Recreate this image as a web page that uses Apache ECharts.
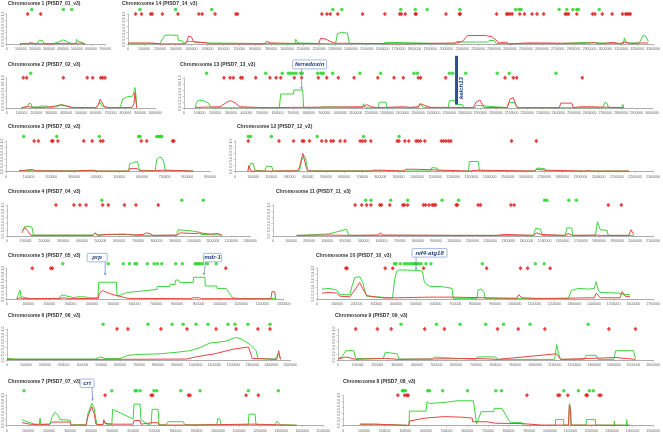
<!DOCTYPE html>
<html><head><meta charset="utf-8">
<script src="https://cdn.jsdelivr.net/npm/echarts@6/dist/echarts.min.js"></script>
<style>html,body{margin:0;padding:0;background:#fff}#c{width:663px;height:434px}</style>
</head><body><div id="c"></div>
<script>
// ---- DATA (positions in kb, values 0..1) ----
const chr1Green=[[95,0.02],[107,0.07],[130,0.03],[213,0.03],[232,0.14],[256,0.13],[265,0.03],[332,0.03],[367,0.08],[403,0.15],[438,0.08],[462,0.03],[493,0.03],[498,0.17],[512,0.1],[545,0.05],[559,0.02]];
const chr1Red=[[95,0.02],[107,0.06],[125,0.03],[150,0.02],[165,0.06],[180,0.05],[200,0.03],[260,0.02],[330,0.02],[400,0.04],[470,0.02],[500,0.04],[520,0.05],[545,0.03],[559,0.01]];
const chr1GreenMarks=[178,403,463];
const chr1RedMarks=[149,242];

const chr14Green=[[0,0.02],[200,0.03],[231,0.3],[262,0.31],[312,0.3],[318,0.12],[343,0.12],[349,0.02],[368,0.1],[405,0.1],[412,0.05],[493,0.05],[499,0.02],[1048,0.02],[1054,0.17],[1067,0.05],[1073,0.02],[1304,0.02],[1316,0.35],[1341,0.4],[1379,0.37],[1391,0.03],[1603,0.03],[1616,0.07],[1653,0.07],[1659,0.02],[2052,0.02],[2065,0.1],[2102,0.08],[2258,0.08],[2271,0.13],[2302,0.13],[2314,0.03],[2713,0.03],[2720,0.07],[2882,0.07],[2888,0.02],[3113,0.02],[3119,0.22],[3131,0.05],[3213,0.05],[3238,0.31],[3256,0.25],[3269,0.1]];
const chr14Red=[[0,0.05],[150,0.05],[200,0.02],[350,0.02],[368,0.05],[380,0.27],[399,0.25],[412,0.08],[493,0.06],[511,0.02],[649,0.02],[661,0.05],[680,0.02],[855,0.02],[873,0.1],[898,0.05],[1085,0.03],[1198,0.03],[1210,0.2],[1241,0.18],[1279,0.08],[1304,0.04],[1603,0.03],[1697,0.02],[2065,0.05],[2102,0.1],[2133,0.29],[2246,0.3],[2289,0.25],[2333,0.05],[2370,0.08],[2395,0.02],[2508,0.05],[2632,0.05],[2726,0.04],[2882,0.04],[2932,0.06],[2963,0.02],[3050,0.07],[3088,0.03],[3119,0.08],[3163,0.03],[3225,0.05],[3269,0.05]];
const chr14GreenMarks=[75,299,526,1287,1343,1714,1805,1880,2085,2435,2456,2470,2709,2757,2795,2820,2830,2961];
const chr14RedMarks=[48,85,142,152,216,314,445,466,547,678,688,1218,1250,1271,1318,1474,1614,1707,1717,1742,1805,1811,1998,2082,2088,2316,2379,2387,2400,2414,2462,2491,2539,2570,2612,2747,2757,2768,2820,2919,2934,2980,3042,3107,3127,3136,3148,3156];

const chr2Green=[[101,0.02],[139,0.05],[150,0.16],[164,0.15],[171,0.04],[213,0.04],[236,0.08],[270,0.07],[292,0.03],[337,0.05],[371,0.13],[405,0.06],[438,0.02],[607,0.02],[618,0.08],[629,0.2],[641,0.08],[674,0.02],[764,0.02],[782,0.3],[809,0.37],[850,0.4],[861,0.38],[865,0.68],[872,0.4],[877,0.02]];
const chr2Red=[[101,0.02],[139,0.06],[171,0.03],[260,0.03],[315,0.06],[360,0.11],[405,0.08],[440,0.03],[600,0.02],[618,0.1],[629,0.3],[641,0.2],[660,0.05],[700,0.02],[845,0.03],[858,0.15],[865,0.52],[872,0.2],[877,0.02]];
const chr2GreenMarks=[162];
const chr2RedMarks=[112,135,382,543,580,634,647,663];

const chr13Green=[[71,0.02],[81,0.2],[96,0.27],[124,0.25],[156,0.18],[173,0.02],[611,0.02],[620,0.47],[701,0.47],[705,0.6],[761,0.6],[767,0.02],[861,0.02],[867,0.05],[889,0.05],[893,0.02],[1146,0.02],[1150,0.15],[1160,0.13],[1165,0.02],[1246,0.02],[1252,0.2],[1295,0.2],[1299,0.02],[1502,0.02],[1513,0.15],[1534,0.03],[1694,0.02],[1701,0.25],[1737,0.25],[1742,0.12],[1786,0.12],[1791,0.02],[1865,0.02],[1876,0.1],[1919,0.08],[1925,0.02],[2072,0.02],[2085,0.2],[2122,0.18],[2133,0.02],[2282,0.02],[2293,0.08],[2303,0.02],[2684,0.02],[2699,0.2],[2714,0.15],[2720,0.02],[2806,0.02],[2812,0.13],[2820,0.02]];
const chr13Red=[[71,0.03],[231,0.05],[274,0.2],[299,0.25],[327,0.18],[359,0.05],[519,0.02],[530,0.05],[551,0.02],[690,0.03],[744,0.03],[1150,0.05],[1171,0.12],[1203,0.05],[1235,0.02],[1406,0.05],[1449,0.03],[1502,0.05],[1513,0.15],[1556,0.07],[1577,0.03],[1705,0.03],[1854,0.02],[1872,0.2],[1897,0.27],[1915,0.1],[1925,0.02],[2072,0.03],[2090,0.3],[2111,0.35],[2128,0.1],[2143,0.02],[2406,0.02],[2415,0.17],[2485,0.17],[2495,0.02],[2538,0.05],[2613,0.05],[2624,0.02],[2820,0.02]];
const chr13GreenMarks=[145,524,630,669,684,701,718,748,758,857,878,893,953,1128,1261,1474,1496,1701,1722,1806,2008,2085,2384];
const chr13RedMarks=[256,295,316,363,374,460,551,590,620,707,754,861,915,989,1090,1242,1346,1406,1502,1517,1677,2058,2111,2133,2553];

const chr3Green=[[58,0.05],[80,0.03],[117,0.05],[132,0.02],[285,0.03],[322,0.03],[380,0.04],[402,0.02],[541,0.02],[545,0.25],[563,0.3],[580,0.33],[589,0.05],[658,0.03],[665,0.4],[677,0.47],[687,0.45],[697,0.3],[703,0.03],[797,0.03],[811,0.02],[826,0.02]];
const chr3Red=[[58,0.03],[117,0.07],[132,0.03],[300,0.02],[380,0.05],[402,0.02],[541,0.02],[545,0.1],[580,0.1],[589,0.03],[658,0.03],[665,0.05],[697,0.05],[703,0.02],[797,0.03],[826,0.02]];
const chr3GreenMarks=[78,224,412,585,592,665,672,680,687];
const chr3RedMarks=[124,143,202,207,229,343,380,417,428,597,621,735,741];

const chr12Green=[[71,0.02],[86,0.27],[100,0.27],[109,0.05],[164,0.02],[173,0.18],[202,0.17],[209,0.02],[355,0.03],[366,0.35],[379,0.52],[388,0.45],[400,0.03],[1075,0.02],[1082,0.13],[1111,0.12],[1115,0.02],[1284,0.02],[1289,0.33],[1339,0.33],[1344,0.02],[1648,0.02],[1661,0.12],[1703,0.1],[1710,0.02],[2167,0.02]];
const chr12Red=[[71,0.02],[76,0.2],[87,0.02],[200,0.02],[344,0.03],[355,0.15],[373,0.6],[383,0.55],[393,0.1],[404,0.02],[747,0.02],[760,0.05],[800,0.05],[810,0.02],[929,0.02],[940,0.08],[990,0.08],[1000,0.02],[1284,0.02],[1290,0.05],[1339,0.05],[1344,0.02],[1648,0.02],[1660,0.08],[1703,0.05],[1710,0.02],[1930,0.02],[1945,0.04],[1960,0.02],[2167,0.02]];
const chr12GreenMarks=[73,86,200,452,707,902];
const chr12RedMarks=[73,242,322,370,379,410,477,501,528,541,578,605,688,701,716,747,892,902,934,956,996,1007,1020,1044,1135,1147,1160,1175,1187,1521,1657];

const chr4Green=[[79,0.2],[96,0.3],[112,0.32],[134,0.28],[141,0.03],[460,0.03],[471,0.1],[482,0.03],[535,0.05],[674,0.05],[685,0.02],[908,0.02],[915,0.2],[979,0.17],[1033,0.12],[1038,0.05],[1150,0.03]];
const chr4Red=[[79,0.1],[96,0.28],[112,0.15],[128,0.02],[460,0.02],[471,0.1],[487,0.02],[535,0.05],[631,0.06],[674,0.03],[728,0.05],[744,0.1],[765,0.08],[781,0.02],[910,0.03],[926,0.1],[1006,0.08],[1033,0.1],[1086,0.06],[1129,0.08],[1150,0.02]];
const chr4GreenMarks=[507,935,1050];
const chr4RedMarks=[262,358,390,423,512,542,628,690,809];

const chr11Green=[[130,0.02],[141,0.06],[157,0.02],[310,0.07],[364,0.15],[407,0.22],[418,0.02],[581,0.02],[592,0.05],[608,0.02],[679,0.02],[690,0.07],[706,0.02],[1439,0.02],[1450,0.25],[1477,0.22],[1488,0.02],[1613,0.02],[1624,0.27],[1651,0.25],[1656,0.02],[1781,0.02],[1792,0.46],[1808,0.2],[1846,0.18],[1851,0.02],[1993,0.02]];
const chr11Red=[[130,0.02],[310,0.03],[418,0.02],[581,0.03],[592,0.1],[608,0.03],[988,0.02],[994,0.05],[1005,0.02],[1233,0.02],[1238,0.05],[1287,0.05],[1292,0.02],[1439,0.02],[1455,0.1],[1482,0.05],[1613,0.02],[1629,0.08],[1656,0.02],[1786,0.03],[1797,0.08],[1814,0.02],[1966,0.02],[1977,0.2],[1993,0.05]];
const chr11GreenMarks=[512,541,650,744,934,1025,1500,1513,1634,1676];
const chr11RedMarks=[454,490,517,541,590,599,645,717,726,744,831,843,862,880,889,898,1012,1019,1133,1146,1314,1332,1852,1924];

const chr5Green=[[47,0.02],[55,0.15],[62,0.3],[68,0.08],[75,0.05],[100,0.04],[110,0.02],[245,0.02],[255,0.12],[270,0.14],[283,0.1],[290,0.05],[320,0.05],[330,0.08],[370,0.08],[380,0.05],[428,0.04],[432,0.55],[515,0.55],[518,0.1],[540,0.15],[565,0.22],[566,0.27],[640,0.27],[641,0.32],[705,0.32],[706,0.41],[765,0.41],[767,0.48],[790,0.48],[792,0.62],[805,0.62],[814,0.54],[875,0.54],[877,0.71],[930,0.71],[932,0.43],[985,0.43],[988,0.35],[1030,0.35],[1060,0.05],[1100,0.02],[1240,0.02],[1250,0.03],[1265,0.02]];
const chr5Red=[[47,0.02],[62,0.05],[75,0.02],[250,0.03],[270,0.05],[290,0.02],[430,0.03],[435,0.2],[450,0.28],[470,0.22],[500,0.15],[540,0.08],[570,0.03],[860,0.02],[875,0.05],[905,0.05],[915,0.02],[1240,0.02],[1245,0.25],[1258,0.24],[1262,0.02]];
const chr5GreenMarks=[263,477,547,576,602,610,660,692,707,728,793,824,884,892,900,908,920,942,983];
const chr5RedMarks=[120,207,214,1028];

const chr10Green=[[25,0.33],[65,0.35],[99,0.3],[116,0.15],[166,0.15],[176,0.4],[191,0.7],[216,0.73],[231,0.55],[241,0.3],[251,0.1],[367,0.05],[382,0.05],[392,0.6],[402,0.9],[417,0.95],[518,0.93],[533,0.9],[543,0.55],[568,0.42],[643,0.4],[683,0.35],[688,0.03],[809,0.03],[814,0.3],[829,0.33],[844,0.25],[849,0.03],[1271,0.03],[1286,0.28],[1321,0.35],[1372,0.33],[1402,0.35],[1412,0.57],[1422,0.3],[1432,0.22],[1523,0.2],[1548,0.16],[1583,0.15]];
const chr10Red=[[25,0.2],[65,0.22],[99,0.2],[116,0.1],[166,0.08],[191,0.3],[216,0.54],[231,0.35],[251,0.12],[291,0.08],[342,0.04],[568,0.07],[683,0.07],[693,0.02],[1010,0.03],[1020,0.15],[1035,0.05],[1121,0.02],[1402,0.05],[1412,0.2],[1432,0.05],[1533,0.05],[1543,0.25],[1558,0.1],[1583,0.08]];
const chr10GreenMarks=[392,400,421,442,454,467,479,492,497,504,513,526,551,576,836,1104,1149];
const chr10RedMarks=[146,152,345,383,539,858,1029,1065,1179];

const chr6Green=[[0,0.05],[50,0.03],[470,0.03],[493,0.1],[520,0.05],[599,0.05],[640,0.15],[700,0.18],[811,0.2],[900,0.25],[970,0.3],[1023,0.4],[1076,0.55],[1155,0.6],[1210,0.72],[1235,0.7],[1288,0.5],[1320,0.3],[1330,0.05],[1420,0.03],[1440,0.2],[1447,0.05]];
const chr6Red=[[0,0.02],[500,0.02],[950,0.03],[1000,0.1],[1100,0.2],[1200,0.35],[1280,0.42],[1300,0.05],[1430,0.02],[1440,0.3],[1450,0.02]];
const chr6GreenMarks=[509,747,875,933,1002,1065,1171,1208,1277,1394];
const chr6RedMarks=[583,641,816,954,1108,1214,1330,1394];

const chr9Green=[[0,0.05],[20,0.1],[40,0.3],[80,0.3],[90,0.05],[230,0.05],[240,0.25],[300,0.2],[310,0.03],[480,0.03],[490,0.1],[520,0.08],[530,0.02],[700,0.02],[710,0.1],[800,0.1],[810,0.02],[1100,0.02],[1110,0.5],[1120,0.2],[1130,0.02],[1250,0.02],[1260,0.15],[1310,0.15],[1320,0.02],[1400,0.02],[1410,0.3],[1500,0.3],[1510,0.05]];
const chr9Red=[[0,0.03],[40,0.1],[90,0.02],[240,0.05],[310,0.02],[700,0.05],[810,0.02],[1110,0.2],[1130,0.02],[1410,0.08],[1510,0.02]];
const chr9GreenMarks=[320,500,620,750,840,975,1270];
const chr9RedMarks=[90,200,270,440,540,810,915,1050,1375,1510];

const chr7Green=[[73,0.2],[87,0.15],[110,0.1],[134,0.05],[155,0.05],[158,0.25],[161,0.05],[205,0.05],[215,0.3],[229,0.44],[243,0.35],[253,0.2],[300,0.18],[305,0.03],[376,0.03],[385,0.4],[403,0.74],[414,0.6],[423,0.2],[428,0.03],[456,0.03],[466,0.12],[475,0.03],[498,0.03],[502,0.54],[599,0.22],[603,0.71],[632,0.71],[636,0.2],[665,0.05],[684,0.05],[689,0.54],[717,0.54],[722,0.03],[755,0.03],[765,0.13],[835,0.13],[845,0.03],[995,0.03],[1001,0.25],[1011,0.2],[1016,0.03],[1144,0.03],[1148,0.38],[1177,0.38],[1181,0.03],[1272,0.03],[1281,0.15],[1295,0.03],[1374,0.02]];
const chr7Red=[[73,0.1],[87,0.08],[110,0.05],[150,0.03],[205,0.05],[215,0.12],[300,0.12],[305,0.02],[376,0.02],[385,0.3],[403,0.63],[414,0.4],[423,0.05],[428,0.02],[456,0.03],[460,0.2],[466,0.08],[475,0.02],[502,0.05],[599,0.05],[603,0.17],[632,0.17],[636,0.05],[689,0.1],[717,0.1],[722,0.02],[840,0.02],[850,0.03],[870,0.02],[1148,0.05],[1177,0.05],[1181,0.02],[1281,0.03],[1374,0.01]];
const chr7GreenMarks=[82,498,608,616,632,698,711,825,916,1145,1287];
const chr7RedMarks=[466,684,692,861,869,1134,1192];

const chr8Green=[[80,0.05],[152,0.05],[160,0.01],[318,0.01],[320,0.48],[400,0.48],[405,0.79],[417,0.73],[498,0.77],[551,0.82],[630,0.82],[645,0.05],[667,0.46],[729,0.46],[731,0.57],[768,0.57],[800,0.19],[810,0.1],[865,0.1],[870,0.01],[1026,0.01],[1028,0.2],[1066,0.2],[1068,0.02],[1090,0.02],[1095,0.73],[1100,0.55],[1102,0.02],[1175,0.02],[1177,0.2],[1220,0.2],[1222,0.02],[1310,0.02],[1312,0.15],[1314,0.02],[1370,0.02],[1372,0.2],[1374,0.02],[1386,0.02]];
const chr8Red=[[80,0.05],[152,0.05],[160,0.01],[318,0.01],[320,0.15],[395,0.25],[401,0.3],[489,0.3],[491,0.28],[576,0.28],[580,0.25],[624,0.25],[626,0.13],[696,0.13],[700,0.1],[738,0.08],[865,0.07],[870,0.03],[960,0.02],[1090,0.02],[1094,0.68],[1100,0.5],[1103,0.02],[1386,0.01]];
const chr8GreenMarks=[286,292,301,409,417,481,601,738,766,1067,1138,1191,1210];
const chr8RedMarks=[264,297,308,314,889,1039,1047,1087,1175,1181,1238,1247];

// gene annotations: [panel, gene, kb, value]
const genes=[[3,'ferredoxin',754,0.62],[8,'prp',462,0.78],[8,'mdr-1',926,0.78],[9,'nif4-atg18',501,0.95],[12,'crt',407,0.82]];
const kelch=[3,'kelch13',1747,0.13,1.72];

// ---- LAYOUT ----
const panels=[
 {t:'Chromosome 1 (PfSD7_01_v3)',g:chr1Green,r:chr1Red,gm:chr1GreenMarks,rm:chr1RedMarks,max:700,L:6.7,T:14,W:98.3,H:30.5,tx:8,ty:1},
 {t:'Chromosome 14 (PfSD7_14_v3)',g:chr14Green,r:chr14Red,gm:chr14GreenMarks,rm:chr14RedMarks,max:3300,L:128,T:14,W:529,H:30.5,tx:122,ty:1},
 {t:'Chromosome 2 (PfSD7_02_v3)',g:chr2Green,r:chr2Red,gm:chr2GreenMarks,rm:chr2RedMarks,max:1000,L:6.7,T:77.8,W:148.3,H:30.5,tx:8,ty:62},
 {t:'Chromosome 13 (PfSD7_13_v3)',g:chr13Green,r:chr13Red,gm:chr13GreenMarks,rm:chr13RedMarks,max:3000,L:184,T:77.8,W:468,H:30.5,tx:180,ty:62},
 {t:'Chromosome 3 (PfSD7_03_v3)',g:chr3Green,r:chr3Red,gm:chr3GreenMarks,rm:chr3RedMarks,max:900,L:5,T:141,W:205,H:30.7,tx:8,ty:124},
 {t:'Chromosome 12 (PfSD7_12_v3)',g:chr12Green,r:chr12Red,gm:chr12GreenMarks,rm:chr12RedMarks,max:2300,L:235,T:141,W:421,H:30.7,tx:237,ty:124},
 {t:'Chromosome 4 (PfSD7_04_v3)',g:chr4Green,r:chr4Red,gm:chr4GreenMarks,rm:chr4RedMarks,max:1300,L:7,T:205,W:243,H:31,tx:8,ty:189},
 {t:'Chromosome 11 (PfSD7_11_v3)',g:chr11Green,r:chr11Red,gm:chr11GreenMarks,rm:chr11RedMarks,max:2100,L:273,T:205,W:386,H:31,tx:276,ty:189},
 {t:'Chromosome 5 (PfSD7_05_v3)',g:chr5Green,r:chr5Red,gm:chr5GreenMarks,rm:chr5RedMarks,max:1300,L:6.7,T:268.3,W:277,H:31,tx:8,ty:253},
 {t:'Chromosome 10 (PfSD7_10_v3)',g:chr10Green,r:chr10Red,gm:chr10GreenMarks,rm:chr10RedMarks,max:1700,L:317,T:268.3,W:338,H:31,tx:316,ty:253},
 {t:'Chromosome 6 (PfSD7_06_v3)',g:chr6Green,r:chr6Red,gm:chr6GreenMarks,rm:chr6RedMarks,max:1500,L:7,T:329,W:283,H:31,tx:8,ty:313},
 {t:'Chromosome 9 (PfSD7_09_v3)',g:chr9Green,r:chr9Red,gm:chr9GreenMarks,rm:chr9RedMarks,max:1600,L:338,T:329,W:320,H:31,tx:335,ty:313},
 {t:'Chromosome 7 (PfSD7_07_v3)',g:chr7Green,r:chr7Red,gm:chr7GreenMarks,rm:chr7RedMarks,max:1500,L:6.7,T:395.3,W:316.6,H:30.4,tx:8,ty:379},
 {t:'Chromosome 8 (PfSD7_08_v3)',g:chr8Green,r:chr8Red,gm:chr8GreenMarks,rm:chr8RedMarks,max:1500,L:343.3,T:395.3,W:311.7,H:30.4,tx:343,ty:379}
];
const GREEN_LEVEL=1.15, RED_LEVEL=1.0;

const chart=echarts.init(document.getElementById('c'),null,{renderer:'canvas'});
const grid=[],xAxis=[],yAxis=[],series=[],title=[];
panels.forEach((p,i)=>{
  grid.push({left:p.L,top:p.T,width:p.W,height:p.H});
  xAxis.push({type:'value',gridIndex:i,min:0,max:p.max,interval:100,
    axisLine:{lineStyle:{color:'#999',width:0.8}},axisTick:{length:1.5,lineStyle:{color:'#999',width:0.5}},
    axisLabel:{fontSize:3.5,color:'#666',margin:3,formatter:v=>String(Math.round(v*1000))},splitLine:{show:false}});
  yAxis.push({type:'value',gridIndex:i,min:0,max:1,interval:0.2,
    axisLine:{show:true,lineStyle:{color:'#999',width:0.6}},axisTick:{show:true,length:1.5,lineStyle:{color:'#999',width:0.5}},
    axisLabel:{fontSize:3.5,color:'#666',rotate:90,margin:2,formatter:v=>v.toFixed(1)},splitLine:{show:false}});
  series.push({type:'line',xAxisIndex:i,yAxisIndex:i,data:p.g,showSymbol:false,lineStyle:{color:'#3fd43f',width:1},z:3,animation:false});
  series.push({type:'line',xAxisIndex:i,yAxisIndex:i,data:p.r,showSymbol:false,lineStyle:{color:'#e84545',width:1},z:4,animation:false});
  series.push({type:'scatter',xAxisIndex:i,yAxisIndex:i,data:p.gm.map(x=>[x,GREEN_LEVEL]),symbol:'circle',symbolSize:3.5,itemStyle:{color:'#1ed41e'},clip:false,animation:false});
  series.push({type:'scatter',xAxisIndex:i,yAxisIndex:i,data:p.rm.map(x=>[x,RED_LEVEL]),symbol:'diamond',symbolSize:[4,4.5],itemStyle:{color:'#e01515'},clip:false,animation:false});
  title.push({text:p.t,left:p.tx,top:p.ty,padding:0,textStyle:{fontSize:5,fontWeight:'bold',color:'#333',fontFamily:'Liberation Sans, Arial'}});
});
chart.setOption({animation:false,backgroundColor:'#fff',title,grid,xAxis,yAxis,series});

// annotation boxes: offsets (pixels) of box centre relative to arrow tip
const boxOff={ 'ferredoxin':[8,-25,34,9], 'prp':[-8,-17.5,20,8.5], 'mdr-1':[8.5,-17.5,18,8.5], 'nif4-atg18':[13.5,-17,35,8.5], 'crt':[-5.5,-17.5,14,8.5] };
const graphic=[];
genes.forEach(([pi,name,kb,val])=>{
  const tip=chart.convertToPixel({gridIndex:pi},[kb,val]);
  const o=boxOff[name];
  const cx=tip[0]+o[0], cy=tip[1]+o[1];
  const bx=cx-o[2]/2, by=cy-o[3]/2;
  const sx=Math.min(Math.max(tip[0],bx+2),bx+o[2]-2), sy=by+o[3];
  graphic.push({type:'line',shape:{x1:sx,y1:sy,x2:tip[0],y2:tip[1]},style:{stroke:'#6d8fc4',lineWidth:0.8},z:100});
  const ang=Math.atan2(tip[1]-sy,tip[0]-sx);
  const a1=ang+2.6,a2=ang-2.6;
  graphic.push({type:'polygon',shape:{points:[[tip[0],tip[1]],[tip[0]+2.5*Math.cos(a1),tip[1]+2.5*Math.sin(a1)],[tip[0]+2.5*Math.cos(a2),tip[1]+2.5*Math.sin(a2)]]},style:{fill:'#6d8fc4'},z:100});
  graphic.push({type:'rect',shape:{x:bx,y:by,width:o[2],height:o[3],r:1},style:{fill:'#fff',stroke:'#8aa6d6',lineWidth:0.8},z:101});
  graphic.push({type:'text',x:cx,y:cy,style:{text:name,fill:'#1d3b7d',font:'italic bold 6px Liberation Sans, Arial',align:'center',verticalAlign:'middle'},z:102});
});
{
  const [pi,name,kb,v0,v1]=kelch;
  const p0=chart.convertToPixel({gridIndex:pi},[kb,v0]);
  const p1=chart.convertToPixel({gridIndex:pi},[kb,v1]);
  graphic.push({type:'rect',shape:{x:p0[0]-1.5,y:p1[1],width:3,height:p0[1]-p1[1]},style:{fill:'#2d4f8e'},z:100});
  graphic.push({type:'text',x:p0[0]+5,y:(p0[1]+p1[1])/2+8,rotation:Math.PI/2,style:{text:name,fill:'#1d3b7d',font:'italic bold 6px Liberation Sans, Arial',align:'center',verticalAlign:'middle'},z:102});
}
chart.setOption({graphic});
</script></body></html>
